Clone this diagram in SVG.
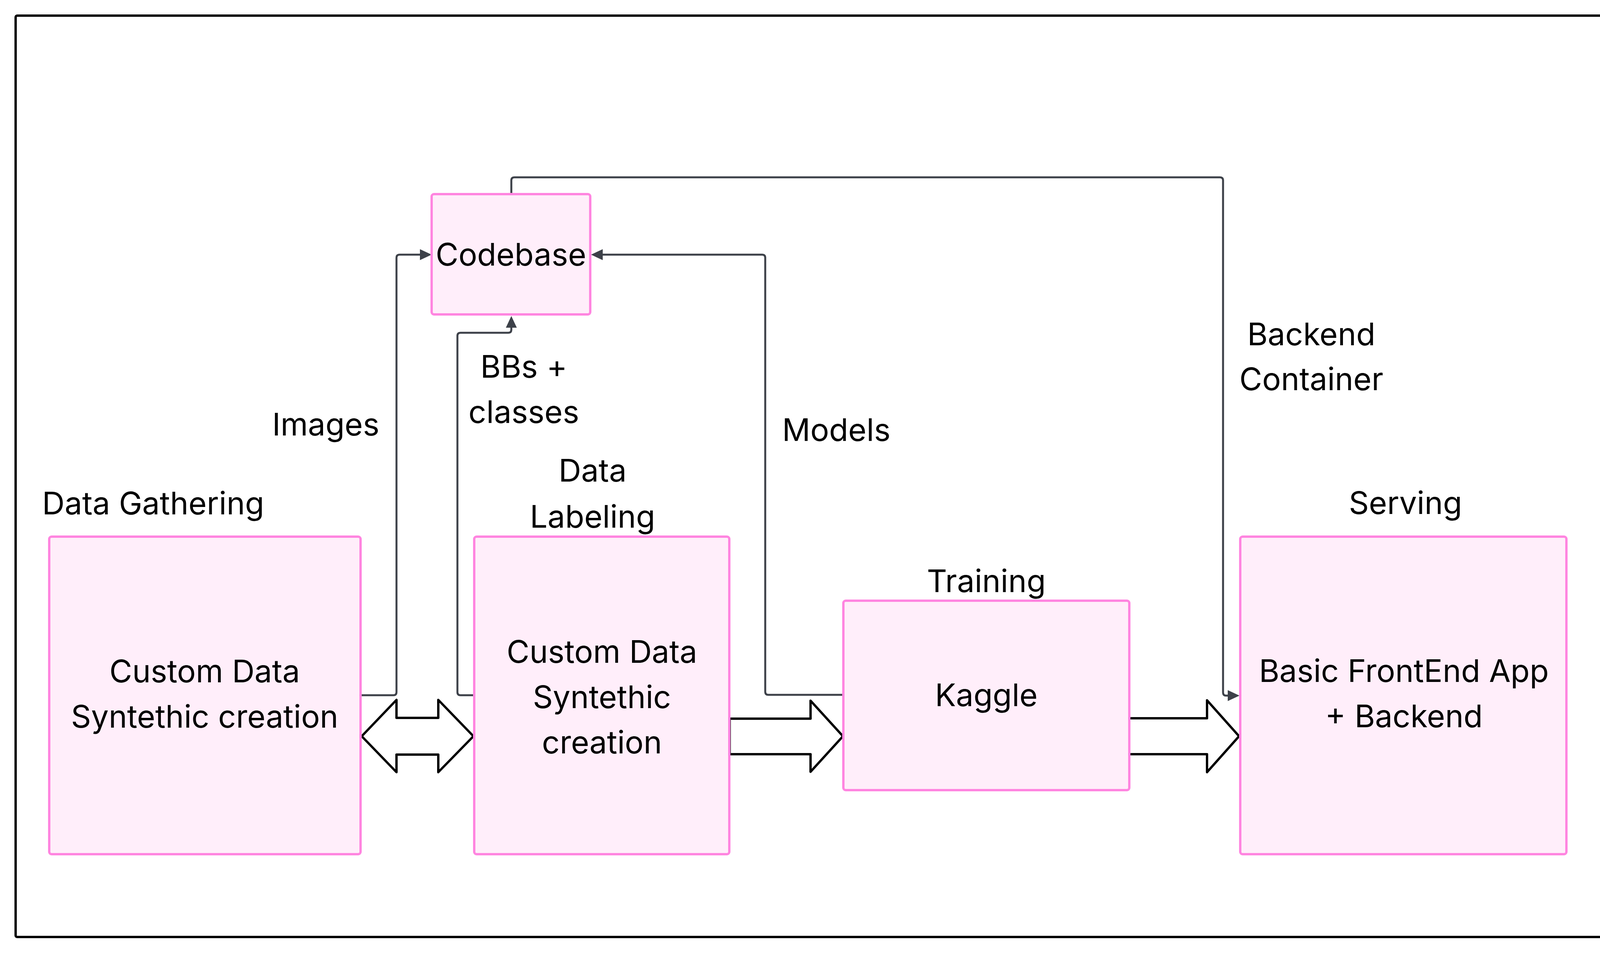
<svg xmlns="http://www.w3.org/2000/svg" width="4220" height="2440" viewBox="0 0 4220 2440">
  <style>
    .box { fill: #ffeefa; stroke: #ff85e0; stroke-width: 6; }
    .lbl { font-family: Inter, "Liberation Sans", sans-serif; font-size: 80px; fill: #000000; text-anchor: middle; }
    .conn { fill: none; stroke: #3d4149; stroke-width: 5; stroke-linejoin: round; }
    .block { fill: #ffffff; stroke: #000000; stroke-width: 6; stroke-linejoin: round; }
  </style>
  <defs>
    <marker id="ah" viewBox="0 0 30 28" refX="0" refY="14" markerWidth="30" markerHeight="28" markerUnits="userSpaceOnUse" orient="auto">
      <path d="M0,0 L30,14 L0,28 z" fill="#3d4149"/>
    </marker>
  </defs>
  <rect x="0" y="0" width="4220" height="2440" fill="#ffffff"/>
  <rect id="frame" x="40" y="40" width="4139" height="2359" rx="4" fill="none" stroke="#000000" stroke-width="6"/>

  <g id="connectors">
    <path id="c-images" class="conn" marker-end="url(#ah)" d="M923,1780 L1007,1780 Q1015,1780 1015,1772 L1015,660 Q1015,652 1023,652 L1075,652"/>
    <path id="c-bbs" class="conn" marker-end="url(#ah)" d="M1214,1780 L1179,1780 Q1171,1780 1171,1772 L1171,860 Q1171,852 1179,852 L1301,852 Q1309,852 1309,844 L1309,839"/>
    <path id="c-models" class="conn" marker-end="url(#ah)" d="M2158,1779 L1967,1779 Q1959,1779 1959,1771 L1959,660 Q1959,652 1951,652 L1543,652"/>
    <path id="c-backend" class="conn" marker-end="url(#ah)" d="M1309,497 L1309,462 Q1309,454 1317,454 L3123,454 Q3131,454 3131,462 L3131,1773 Q3131,1781 3139,1781 L3143,1781"/>
    <path id="a-dg-dl" class="block" d="M926,1885 L1015,1792 L1015,1838 L1122,1838 L1122,1792 L1212,1885 L1122,1977 L1122,1932 L1015,1932 L1015,1977 Z"/>
    <path id="a-dl-kg" class="block" d="M1868,1840 L2075,1840 L2075,1794 L2158,1885 L2075,1976 L2075,1931 L1868,1931 Z"/>
    <path id="a-kg-sv" class="block" d="M2883,1839 L3090,1839 L3090,1793 L3172,1885 L3090,1977 L3090,1931 L2883,1931 Z"/>
  </g>

  <g id="codebase">
    <rect class="box" x="1105" y="497" width="406" height="308" rx="6"/>
    <text class="lbl" x="1308" y="680">Codebase</text>
  </g>

  <g id="data-gathering">
    <text class="lbl" x="392" y="1317">Data Gathering</text>
    <rect class="box" x="126" y="1374" width="797" height="813" rx="6"/>
    <text class="lbl" x="524" y="1747">Custom Data</text>
    <text class="lbl" x="524" y="1863">Syntethic creation</text>
  </g>

  <g id="data-labeling">
    <text class="lbl" x="1517" y="1233">Data</text>
    <text class="lbl" x="1517" y="1351">Labeling</text>
    <rect class="box" x="1214" y="1374" width="653" height="813" rx="6"/>
    <text class="lbl" x="1541" y="1697">Custom Data</text>
    <text class="lbl" x="1541" y="1813">Syntethic</text>
    <text class="lbl" x="1541" y="1929">creation</text>
  </g>

  <g id="training">
    <text class="lbl" x="2525" y="1516">Training</text>
    <rect class="box" x="2159" y="1538" width="732" height="485" rx="6"/>
    <text class="lbl" x="2525" y="1808">Kaggle</text>
  </g>

  <g id="serving">
    <text class="lbl" x="3598" y="1316">Serving</text>
    <rect class="box" x="3175" y="1374" width="835" height="813" rx="6"/>
    <text class="lbl" x="3594" y="1746">Basic FrontEnd App</text>
    <text class="lbl" x="3594" y="1862">+ Backend</text>
  </g>

  <g id="edge-labels">
    <text class="lbl" x="834" y="1115">Images</text>
    <text class="lbl" x="1341" y="967">BBs +</text>
    <text class="lbl" x="1341" y="1083">classes</text>
    <text class="lbl" x="2141" y="1129">Models</text>
    <text class="lbl" x="3357" y="884">Backend</text>
    <text class="lbl" x="3357" y="999">Container</text>
  </g>
</svg>
